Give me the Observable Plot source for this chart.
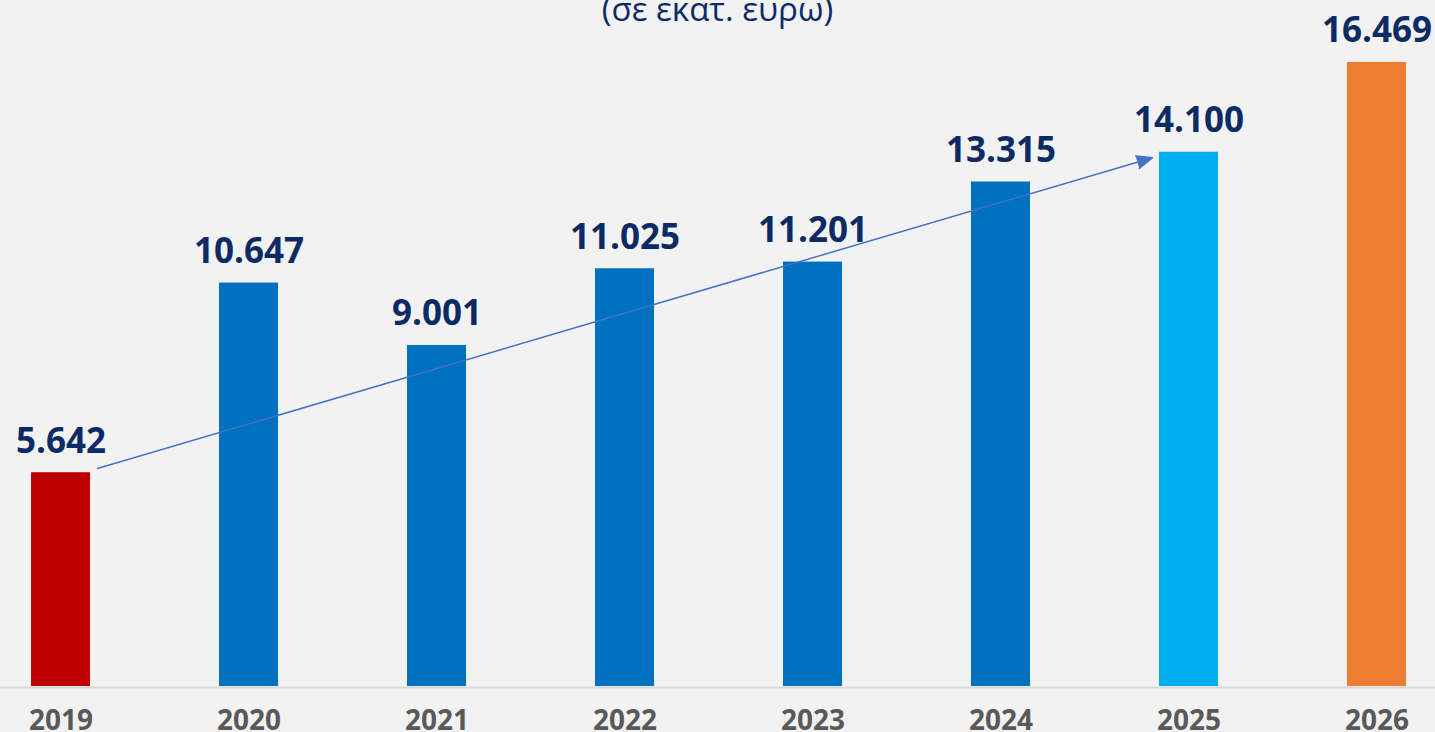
<!DOCTYPE html>
<html><head><meta charset="utf-8">
<script src="https://cdn.jsdelivr.net/npm/d3@7"></script>
<script src="https://cdn.jsdelivr.net/npm/@observablehq/plot@0.6"></script>
<style>
html,body{margin:0;padding:0;background:#f2f2f2;overflow:hidden}
#wrap{position:relative;width:1435px;height:732px}
#wrap svg{display:block}
#sub{position:absolute;left:0;width:1435px;top:-8px;text-align:center;font:400 33px/33px "Open Sans";color:#0c2b66}
</style></head><body>
<div id="wrap"></div>
<script>
const years = ["2019","2020","2021","2022","2023","2024","2025","2026"];
const values = [5642,10647,9001,11025,11201,13315,14100,16469];
const barColors = ["#c00000","#0070c0","#0070c0","#0070c0","#0070c0","#0070c0","#00b0f0","#ed7d31"];
const subtitle = "(σε εκατ. ευρω)";
// trend arrow endpoints (data units)
const trendFrom = {year:"2019", value:5470};
const trendTo = {year:"2025", value:14240};

const data = years.map((year,i)=>({year, value:values[i]}));
const loc = d3.formatLocale({decimal:",", thousands:".", grouping:[3], currency:["","€"]});
const fmt = loc.format(",d");

const chart = Plot.plot({
  width:1435, height:732,
  marginTop:0, marginBottom:46, marginLeft:31, marginRight:29,
  x:{domain:years, paddingInner:0.686, paddingOuter:0, align:0.5, round:false, axis:null},
  y:{domain:[0,18105], axis:null},
  color:{domain:years, range:barColors},
  style:{background:"#f2f2f2", fontFamily:"Open Sans", overflow:"visible"},
  marks:[
    Plot.barY(data,{x:"year", y:"value", fill:"year"}),
    Plot.ruleY([0],{stroke:"#d9d9d9", strokeWidth:2, dy:1, insetLeft:-31, insetRight:-29}),
    Plot.arrow([{x1:trendFrom.year, y1:trendFrom.value, x2:trendTo.year, y2:trendTo.value}],{
      x1:"x1", y1:"y1", x2:"x2", y2:"y2",
      stroke:"#4472c4", fill:"#4472c4", strokeWidth:1.5,
      headLength:17, headAngle:45, insetStart:38, insetEnd:38
    }),
    Plot.text(data,{x:"year", y:"value", text:d=>fmt(d.value), dy:-20, lineAnchor:"bottom",
      fontSize:35, fontWeight:700, fill:"#0c2a63"}),
    Plot.axisX({tickSize:0, tickPadding:24, fontSize:28, fontWeight:700, fill:"#595959"})
  ]
});
const wrap = document.getElementById("wrap");
wrap.appendChild(chart);
const sub = document.createElement("div");
sub.id = "sub";
sub.textContent = subtitle;
wrap.appendChild(sub);
</script>
</body></html>
